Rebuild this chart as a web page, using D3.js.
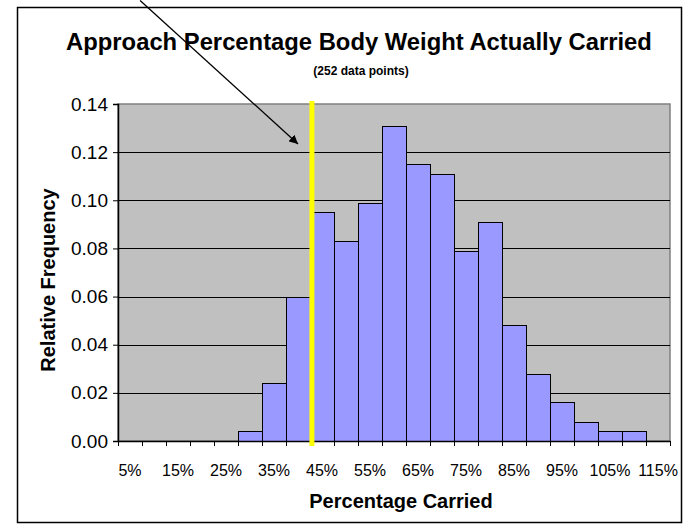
<!DOCTYPE html>
<html>
<head>
<meta charset="utf-8">
<script src="https://cdn.jsdelivr.net/npm/d3@7"></script>
<style>
  html, body { margin: 0; padding: 0; background: #fff; }
  svg { display: block; }
  text { font-family: "Liberation Sans", Arial, Helvetica, sans-serif; fill: #000; }
</style>
</head>
<body>
<svg id="chart" width="687" height="529"></svg>
<script>
// ---- data ----
const categories = ["5%","10%","15%","20%","25%","30%","35%","40%","45%","50%","55%","60%",
                    "65%","70%","75%","80%","85%","90%","95%","100%","105%","110%","115%"];
const binCenters = [5,10,15,20,25,30,35,40,45,50,55,60,65,70,75,80,85,90,95,100,105,110,115];
const frequencies = [0,0,0,0,0,0.004,0.024,0.060,0.095,0.083,0.099,0.131,
                     0.115,0.111,0.079,0.091,0.048,0.028,0.016,0.008,0.004,0.004,0];
const xTickLabels = ["5%","15%","25%","35%","45%","55%","65%","75%","85%","95%","105%","115%"];
const yTicks = [0,0.02,0.04,0.06,0.08,0.10,0.12,0.14];
const markerPct = 42.9;              // yellow reference line
const arrowTail = [7.1, 0.183];      // [percent, frequency]
const arrowTip  = [40.0, 0.1234];
const titleText = "Approach Percentage Body Weight Actually Carried";
const subtitleText = "(252 data points)";
const xTitle = "Percentage Carried";
const yTitle = "Relative Frequency";

// ---- layout ----
const svg = d3.select("#chart");
const plot = {left: 118, right: 670, top: 104, bottom: 441};

const x = d3.scaleBand().domain(categories).range([plot.left, plot.right]).padding(0);
const xLin = d3.scaleLinear().domain([2.5, 117.5]).range([plot.left, plot.right]);
const y = d3.scaleLinear().domain([0, 0.14]).range([plot.bottom, plot.top]);

// outer border
svg.append("rect").attr("x", 17.5).attr("y", 7.5).attr("width", 664).attr("height", 515)
  .attr("fill", "#fff").attr("stroke", "#000").attr("stroke-width", 1.5);

// plot area
svg.append("rect").attr("x", plot.left).attr("y", plot.top)
  .attr("width", plot.right - plot.left).attr("height", plot.bottom - plot.top)
  .attr("fill", "#C0C0C0").attr("stroke", "#808080").attr("stroke-width", 1.5);

// gridlines
svg.append("g").selectAll("line").data(yTicks.filter(d => d > 0 && d < 0.14)).join("line")
  .attr("x1", plot.left).attr("x2", plot.right)
  .attr("y1", d => Math.round(y(d)) + 0.5).attr("y2", d => Math.round(y(d)) + 0.5)
  .attr("stroke", "#000").attr("stroke-width", 1);

// bars
svg.append("g").selectAll("rect").data(categories).join("rect")
  .attr("x", d => Math.round(x(d)) + 0.5)
  .attr("y", (d, i) => Math.round(y(frequencies[i])) + 0.5)
  .attr("width", x.bandwidth())
  .attr("height", (d, i) => Math.max(0, Math.round(y(0)) - Math.round(y(frequencies[i]))))
  .attr("fill", "#9999FF").attr("stroke", (d, i) => frequencies[i] > 0 ? "#000" : "none")
  .attr("stroke-width", 1);

// axes
const yAxis = d3.axisLeft(y).tickValues(yTicks).tickFormat(d3.format(".2f")).tickSize(5).tickPadding(5);
const gy = svg.append("g").attr("transform", `translate(${plot.left},0)`).call(yAxis);
gy.select(".domain").attr("stroke", "#000").attr("stroke-width", 1.5);
gy.selectAll(".tick line").attr("stroke", "#000");
gy.selectAll(".tick text").attr("font-size", 19).attr("font-family", "Liberation Sans, Arial, sans-serif").attr("fill", "#000");

const xAxis = d3.axisBottom(x).tickValues([]).tickSize(0);
const gx = svg.append("g").attr("transform", `translate(0,${plot.bottom})`).call(xAxis);
gx.select(".domain").attr("stroke", "#000").attr("stroke-width", 1.5);
// tick marks at bin boundaries
const boundaries = categories.map(c => x(c)).concat([plot.right]);
svg.append("g").selectAll("line").data(boundaries).join("line")
  .attr("x1", d => Math.round(d) + 0.5).attr("x2", d => Math.round(d) + 0.5)
  .attr("y1", plot.bottom).attr("y2", plot.bottom + 5)
  .attr("stroke", "#000").attr("stroke-width", 1);
// tick labels
svg.append("g").selectAll("text").data(xTickLabels).join("text")
  .attr("x", d => x(d) + x.bandwidth() / 2).attr("y", 476)
  .attr("text-anchor", "middle").attr("font-size", 16).text(d => d);

// yellow marker line
svg.append("line").attr("x1", xLin(markerPct)).attr("x2", xLin(markerPct))
  .attr("y1", plot.top - 3).attr("y2", plot.bottom + 5)
  .attr("stroke", "#FFFF00").attr("stroke-width", 5);

// arrow
const defs = svg.append("defs");
defs.append("marker").attr("id", "ah").attr("viewBox", "0 0 10 10")
  .attr("refX", 10).attr("refY", 5).attr("markerWidth", 9).attr("markerHeight", 9)
  .attr("markerUnits", "userSpaceOnUse").attr("orient", "auto")
  .append("path").attr("d", "M0,0 L10,5 L0,10 z").attr("fill", "#000");
svg.append("line")
  .attr("x1", xLin(arrowTail[0])).attr("y1", y(arrowTail[1]))
  .attr("x2", xLin(arrowTip[0])).attr("y2", y(arrowTip[1]))
  .attr("stroke", "#000").attr("stroke-width", 1.3).attr("marker-end", "url(#ah)");

// titles
svg.append("text").attr("x", 359).attr("y", 50).attr("text-anchor", "middle")
  .attr("font-size", 23.8).attr("font-weight", "bold").text(titleText);
svg.append("text").attr("x", 361).attr("y", 75).attr("text-anchor", "middle")
  .attr("font-size", 12).attr("font-weight", "bold").text(subtitleText);
svg.append("text").attr("x", 401).attr("y", 508).attr("text-anchor", "middle")
  .attr("font-size", 20).attr("font-weight", "bold").text(xTitle);
svg.append("text").attr("transform", "translate(55,280) rotate(-90)").attr("text-anchor", "middle")
  .attr("font-size", 20).attr("font-weight", "bold").text(yTitle);
</script>
</body>
</html>
